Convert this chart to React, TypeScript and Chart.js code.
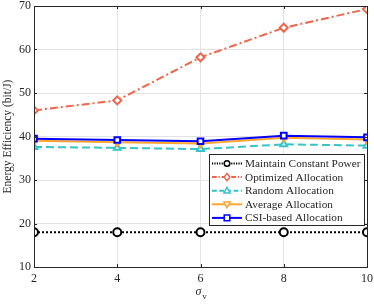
import React, { useEffect, useRef } from "react";
import { Chart, registerables } from "chart.js";
Chart.register(...registerables);

const sigmaV = [2, 4, 6, 8, 10];
const constantPower = [18, 18, 18, 18, 18];
const optimized = [46.0, 48.3, 58.2, 65.0, 69.3];
const randomAlloc = [37.6, 37.4, 37.1, 38.2, 37.9];
const averageAlloc = [39.0, 38.7, 38.4, 39.7, 39.3];
const csiAlloc = [39.5, 39.2, 38.9, 40.2, 39.8];
const yTicks = [10, 20, 30, 40, 50, 60, 70];
const legendLabels = [
  "Maintain Constant Power",
  "Optimized Allocation",
  "Random Allocation",
  "Average Allocation",
  "CSI-based Allocation",
];

const FONT = "'Liberation Serif', 'Times New Roman', serif";

export default function App() {
  const ref = useRef<HTMLCanvasElement>(null);
  useEffect(() => {
    const ctx = ref.current!.getContext("2d")!;
    const styles = [
      { color: "#000000", dash: [2, 2], pt: "circle", rot: 0, w: 2 },
      { color: "#F06449", dash: [8, 3, 2, 3], pt: "rectRot", rot: 0, w: 2 },
      { color: "#35C4C9", dash: [8, 4], pt: "triangle", rot: 0, w: 2 },
      { color: "#FFA530", dash: [], pt: "triangle", rot: 180, w: 2 },
      { color: "#0000FF", dash: [], pt: "rect", rot: 0, w: 2 },
    ];
    const series = [constantPower, optimized, randomAlloc, averageAlloc, csiAlloc];
    function drawMarker(c: CanvasRenderingContext2D, pt: string, rot: number, x: number, y: number, r: number, color: string) {
      c.save();
      c.strokeStyle = color;
      c.fillStyle = "#ffffff";
      c.lineWidth = 1.5;
      c.beginPath();
      if (pt === "circle") {
        c.arc(x, y, r, 0, Math.PI * 2);
      } else if (pt === "rectRot") {
        c.moveTo(x, y - r * 1.3); c.lineTo(x + r, y); c.lineTo(x, y + r * 1.3); c.lineTo(x - r, y); c.closePath();
      } else if (pt === "rect") {
        c.rect(x - r, y - r, 2 * r, 2 * r);
      } else if (pt === "triangle") {
        const s = rot === 180 ? -1 : 1;
        c.moveTo(x, y - s * r * 1.2); c.lineTo(x + r * 1.1, y + s * r * 0.8); c.lineTo(x - r * 1.1, y + s * r * 0.8); c.closePath();
      }
      c.fill();
      c.stroke();
      c.restore();
    }
    const decor = {
      id: "decor",
      afterDraw(chart: any) {
        const c = chart.ctx;
        const a = chart.chartArea;
        c.save();
        c.strokeStyle = "#262626";
        c.lineWidth = 1;
        c.strokeRect(a.left + 0.5, a.top + 0.5, a.right - a.left, a.bottom - a.top);
        const xs = chart.scales.x, ys = chart.scales.y;
        c.beginPath();
        sigmaV.forEach((v) => {
          const px = Math.round(xs.getPixelForValue(v)) + 0.5;
          c.moveTo(px, a.bottom); c.lineTo(px, a.bottom - 3);
          c.moveTo(px, a.top); c.lineTo(px, a.top + 3);
        });
        yTicks.forEach((v) => {
          const py = Math.round(ys.getPixelForValue(v)) + 0.5;
          c.moveTo(a.left, py); c.lineTo(a.left + 3, py);
          c.moveTo(a.right, py); c.lineTo(a.right - 3, py);
        });
        c.stroke();
        c.fillStyle = "#262626";
        c.font = "italic 12px " + FONT;
        c.textAlign = "center";
        c.textBaseline = "middle";
        const cx = (a.left + a.right) / 2;
        c.fillText("σ", cx - 2, 292);
        c.font = "9px " + FONT;
        c.fillText("v", cx + 4, 297);
        const lx = 209, ly = 154, lw = 155, lh = 71;
        c.fillStyle = "#ffffff";
        c.fillRect(lx, ly, lw, lh);
        c.strokeStyle = "#262626";
        c.lineWidth = 1;
        c.strokeRect(lx + 0.5, ly + 0.5, lw, lh);
        legendLabels.forEach((lab, i) => {
          const s = styles[i];
          const y = ly + 9.5 + i * 13.6;
          c.strokeStyle = s.color;
          c.lineWidth = 2;
          c.setLineDash(s.dash.length ? s.dash.map((d: number) => d * 0.6) : []);
          c.beginPath();
          c.moveTo(lx + 3, y);
          c.lineTo(lx + 33, y);
          c.stroke();
          c.setLineDash([]);
          drawMarker(c, s.pt, s.rot, lx + 18, y, 2.8, s.color);
          c.fillStyle = "#262626";
          c.font = "11.3px " + FONT;
          c.textAlign = "left";
          c.textBaseline = "middle";
          c.fillText(lab, lx + 36, y + 0.5);
        });
        c.restore();
      },
    };
    const chart = new Chart(ctx, {
      type: "line",
      data: {
        datasets: series.map((d, i) => ({
          label: legendLabels[i],
          data: d.map((v, j) => ({ x: sigmaV[j], y: v })),
          borderColor: styles[i].color,
          backgroundColor: "#ffffff",
          borderWidth: styles[i].w,
          borderDash: styles[i].dash,
          pointStyle: styles[i].pt as any,
          rotation: styles[i].rot,
          pointRadius: 4,
          pointBorderWidth: 2,
          pointBackgroundColor: "#ffffff",
          pointBorderColor: styles[i].color,
          tension: 0,
          order: 5 - i,
        })),
      },
      options: {
        animation: false,
        responsive: false,
        layout: { padding: { top: 6, right: 7, left: 1, bottom: 0 } },
        plugins: { legend: { display: false }, tooltip: { enabled: false } },
        scales: {
          x: {
            type: "linear",
            min: 2,
            max: 10,
            afterBuildTicks: (s: any) => { s.ticks = sigmaV.map((v) => ({ value: v })); },
            afterFit: (s: any) => { s.height = 37; s.paddingLeft = 0; s.paddingRight = 0; },
            ticks: { color: "#262626", font: { family: FONT, size: 12 }, padding: 5 },
            grid: { color: "#e3e3e3", drawTicks: false },
            border: { color: "#262626" },
          },
          y: {
            min: 10,
            max: 70,
            afterBuildTicks: (s: any) => { s.ticks = yTicks.map((v) => ({ value: v })); },
            afterFit: (s: any) => { s.width = 33; s.paddingTop = 0; s.paddingBottom = 0; },
            ticks: { color: "#262626", font: { family: FONT, size: 12 }, padding: 3 },
            grid: { color: "#e3e3e3", drawTicks: false },
            border: { color: "#262626" },
            title: {
              display: true,
              text: "Energy Efficiency (bit/J)",
              color: "#262626",
              font: { family: FONT, size: 11.5 },
              padding: { top: 0, bottom: 0 },
            },
          },
        },
      },
      plugins: [decor],
    });
    return () => chart.destroy();
  }, []);
  return (
    <div style={{ position: "absolute", left: 0, top: 0, width: 374, height: 304, background: "#fff" }}>
      <canvas ref={ref} width={374} height={304} style={{ width: 374, height: 304, display: "block" }} />
    </div>
  );
}
